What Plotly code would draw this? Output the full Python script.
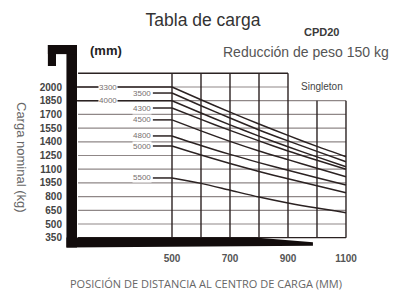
import plotly.graph_objects as go

# ---------------- data ----------------
load_centers = [500, 600, 700, 800, 900, 1000, 1100]
mast_heights = ["3300", "3500", "4000", "4300", "4500", "4800", "5000", "5500"]
cap_3300 = [2000, 1860, 1725, 1595, 1470, 1350, 1237]
cap_3500 = [1934, 1795, 1660, 1530, 1410, 1295, 1182]
cap_4000 = [1850, 1715, 1585, 1462, 1345, 1235, 1127]
cap_4300 = [1770, 1645, 1525, 1410, 1300, 1198, 1099]
cap_4500 = [1640, 1520, 1405, 1300, 1205, 1110, 1018]
cap_4800 = [1464, 1360, 1262, 1172, 1088, 1006, 927]
cap_5000 = [1354, 1255, 1162, 1075, 995, 918, 843]
cap_5500 = [1004, 945, 870, 795, 730, 674, 624]
capacities = [cap_3300, cap_3500, cap_4000, cap_4300, cap_4500, cap_4800, cap_5000, cap_5500]
lead_start = [172, 434, 172, 434, 434, 434, 434, 434]   # where each curve's flat part begins (mm axis)

y_tick_vals = [2000, 1850, 1700, 1550, 1400, 1250, 1100, 950, 800, 650, 500, 350]
y_tick_text = ["2000", "1850", "1700", "1550", "1400", "1250", "1100", "1950", "800", "650", "500", "350"]
x_tick_vals = [500, 700, 900, 1100]
grid_x = [500, 600, 700, 800, 900, 1000, 1100]

# ---------------- styling / geometry ----------------
W, H = 409, 291
ML, MR, MT, MB = 46, 49, 40, 43
X_RANGE = [65.5, 1148.3]
Y_RANGE = [237.2, 2514.6]
LINE_C = "#2b2222"
GRID_C = "#8f8787"
FORK_C = "#120c0c"

fig = go.Figure()

# curves: flat part up to 500 mm, then a smooth decline
label_x = [278, 398, 278, 398, 398, 398, 398, 398]
for name, caps, xs0 in zip(mast_heights, capacities, lead_start):
    fig.add_trace(go.Scatter(
        x=[xs0, load_centers[0]], y=[caps[0], caps[0]],
        mode="lines", line=dict(color=LINE_C, width=1.5),
        name=name, showlegend=False, hoverinfo="skip"))
    fig.add_trace(go.Scatter(
        x=load_centers, y=caps,
        mode="lines", line=dict(color=LINE_C, width=1.5, shape="spline", smoothing=0.8),
        name=name, showlegend=False, hoverinfo="skip"))

shapes = []
# horizontal grid lines
for v in y_tick_vals[:-1]:
    x_end = 900 if v > 1850 else 1100
    shapes.append(dict(type="line", xref="x", yref="y", x0=176, x1=x_end, y0=v, y1=v,
                       line=dict(color=GRID_C, width=1.2), layer="below"))
# top outline of the grid
shapes.append(dict(type="line", xref="x", yref="y", x0=176, x1=900, y0=2150, y1=2150,
                   line=dict(color=LINE_C, width=1.4), layer="below"))
# vertical grid lines
for gx in grid_x:
    top = 2150 if gx <= 900 else 1850
    shapes.append(dict(type="line", xref="x", yref="y", x0=gx, x1=gx, y0=350, y1=top,
                       line=dict(color=LINE_C, width=1.4), layer="below"))
# bottom line of grid
shapes.append(dict(type="line", xref="x", yref="y", x0=176, x1=1100, y0=350, y1=350,
                   line=dict(color=LINE_C, width=1.3), layer="below"))

# fork silhouette
shapes.append(dict(type="path", xref="x", yref="y", layer="above",
                   path="M 136,352 L 786,352 L 986,300 L 986,262 L 136,244 Z",
                   fillcolor=FORK_C, line=dict(width=0)))
shapes.append(dict(type="rect", xref="x", yref="y", layer="above",
                   x0=136, x1=172.4, y0=244, y1=2460,
                   fillcolor=FORK_C, line=dict(width=0)))
shapes.append(dict(type="rect", xref="x", yref="y", layer="above",
                   x0=72, x1=172.4, y0=2360, y1=2460,
                   fillcolor=FORK_C, line=dict(width=0)))
shapes.append(dict(type="rect", xref="x", yref="y", layer="above",
                   x0=72, x1=100, y0=2230, y1=2460,
                   fillcolor=FORK_C, line=dict(width=0)))

annotations = []
for name, caps, lx in zip(mast_heights, capacities, label_x):
    annotations.append(dict(x=lx, y=caps[0], xref="x", yref="y", text=name, showarrow=False,
                            font=dict(family="Liberation Sans", size=8, color="#777070"),
                            bgcolor="white", borderpad=0))


def ptxt(px, py, s, size, color, family="Liberation Sans", bold=False, angle=0):
    if bold:
        s = "<b>" + s + "</b>"
    return dict(x=(px - ML) / (W - ML - MR), y=1 - (py - MT) / (H - MT - MB),
                xref="paper", yref="paper", text=s, showarrow=False,
                xanchor="center", yanchor="middle", textangle=angle,
                font=dict(family=family, size=size, color=color))


annotations += [
    ptxt(321, 32, "CPD20", 11, "#3a3a3a", bold=True),
    ptxt(306, 52, "Reducción de peso 150 kg", 14, "#555555"),
    ptxt(106, 50, "(mm)", 13, "#222222", bold=True),
    ptxt(322, 86, "Singleton", 10, "#444444"),
    ptxt(22, 157, "Carga nominal (kg)", 13, "#666666", angle=90),
    ptxt(206, 283, "POSICIÓN DE DISTANCIA AL CENTRO DE CARGA (MM)", 11, "#666666", family="Open Sans"),
]

fig.update_layout(
    width=W, height=H, autosize=False,
    margin=dict(l=ML, r=MR, t=MT, b=MB, pad=0),
    paper_bgcolor="white", plot_bgcolor="white",
    title=dict(text="Tabla de carga", x=203 / W, y=1 - 20 / H, xref="container", yref="container",
               xanchor="center", yanchor="middle",
               font=dict(family="Liberation Sans", size=17.5, color="#333333")),
    shapes=shapes, annotations=annotations,
    xaxis=dict(range=X_RANGE, showgrid=False, zeroline=False, showline=False, ticks="",
               tickvals=x_tick_vals, ticktext=["<b>" + str(v) + "</b>" for v in x_tick_vals],
               tickfont=dict(family="Liberation Sans", size=10, color="#555555"),
               ticklabelstandoff=3, fixedrange=True),
    yaxis=dict(range=Y_RANGE, showgrid=False, zeroline=False, showline=False, ticks="",
               tickvals=y_tick_vals, ticktext=["<b>" + t + "</b>" for t in y_tick_text],
               anchor="free", position=(62 - ML) / (W - ML - MR),
               tickfont=dict(family="Liberation Sans", size=10, color="#444444"),
               fixedrange=True),
    showlegend=False,
)

fig.write_html("out.html", config={"displayModeBar": False},
               post_script="document.body.style.margin='0';document.body.style.padding='0';")
